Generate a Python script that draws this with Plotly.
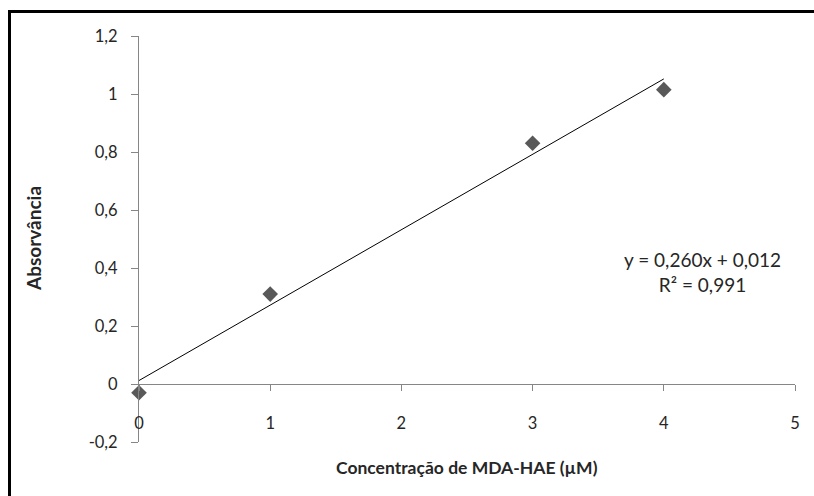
import plotly.graph_objects as go

# Data
conc = [0, 1, 3, 4]
absorb = [-0.03, 0.31, 0.83, 1.015]
slope = 0.260
intercept = 0.012
trend_x = [0, 4]
trend_y = [intercept + slope * x for x in trend_x]
x_ticks = [0, 1, 2, 3, 4, 5]
y_ticks = [-0.2, 0, 0.2, 0.4, 0.6, 0.8, 1.0, 1.2]
y_labels = ["-0,2", "0", "0,2", "0,4", "0,6", "0,8", "1", "1,2"]
eq_text = "y = 0,260x + 0,012<br>R² = 0,991"

FONT = "Lato"
AX = "#868686"
TXT = "#262626"

fig = go.Figure()
fig.add_trace(go.Scatter(x=trend_x, y=trend_y, mode="lines",
                         line=dict(color="#000000", width=1), showlegend=False))
fig.add_trace(go.Scatter(x=conc, y=absorb, mode="markers",
                         marker=dict(symbol="diamond", size=12, color="#595959"),
                         showlegend=False, cliponaxis=False))

W, H = 814, 496
L, R, T, B = 139, 19, 36, 54
pw, ph = W - L - R, H - T - B

def px(x):
    return (x - L) / pw

def py(y):
    return (H - B - y) / ph

fig.update_layout(
    width=W, height=H,
    margin=dict(l=L, r=R, t=T, b=B),
    paper_bgcolor="white", plot_bgcolor="white",
    font=dict(family=FONT, color=TXT, size=16),
    xaxis=dict(range=[0, 5], tickvals=x_ticks, ticktext=[str(v) for v in x_ticks],
               showgrid=False, zeroline=False, showline=True, linecolor=AX, linewidth=1,
               ticks="outside", ticklen=6, tickcolor=AX, anchor="free",
               position=(0 - (-0.2)) / 1.4, ticklabelstandoff=18,
               tickfont=dict(size=16.5, color=TXT)),
    yaxis=dict(range=[-0.2, 1.2], tickvals=y_ticks, ticktext=y_labels,
               showgrid=False, zeroline=False, showline=True, linecolor=AX, linewidth=1,
               ticks="outside", ticklen=7, tickcolor=AX, ticklabelstandoff=10,
               tickfont=dict(size=16.5, color=TXT)),
    shapes=[dict(type="rect", xref="paper", yref="paper",
                 x0=px(9.5), x1=px(830), y0=py(11.5), y1=py(510),
                 line=dict(color="black", width=3), layer="above")],
    annotations=[
        dict(text=eq_text, x=px(702), y=py(272), xref="paper", yref="paper",
             xanchor="center", yanchor="middle",
             showarrow=False, align="center", font=dict(size=19, color=TXT)),
        dict(text="<b>Concentração de MDA-HAE (µM)</b>", x=px(467), y=py(467),
             xref="paper", yref="paper", xanchor="center", yanchor="middle",
             showarrow=False, font=dict(size=17.5, color=TXT)),
        dict(text="<b>Absorvância</b>", x=px(33), y=py(239), textangle=-90,
             xref="paper", yref="paper", xanchor="center", yanchor="middle",
             showarrow=False, font=dict(size=19, color=TXT)),
    ],
)

fig.write_html("out.html")
